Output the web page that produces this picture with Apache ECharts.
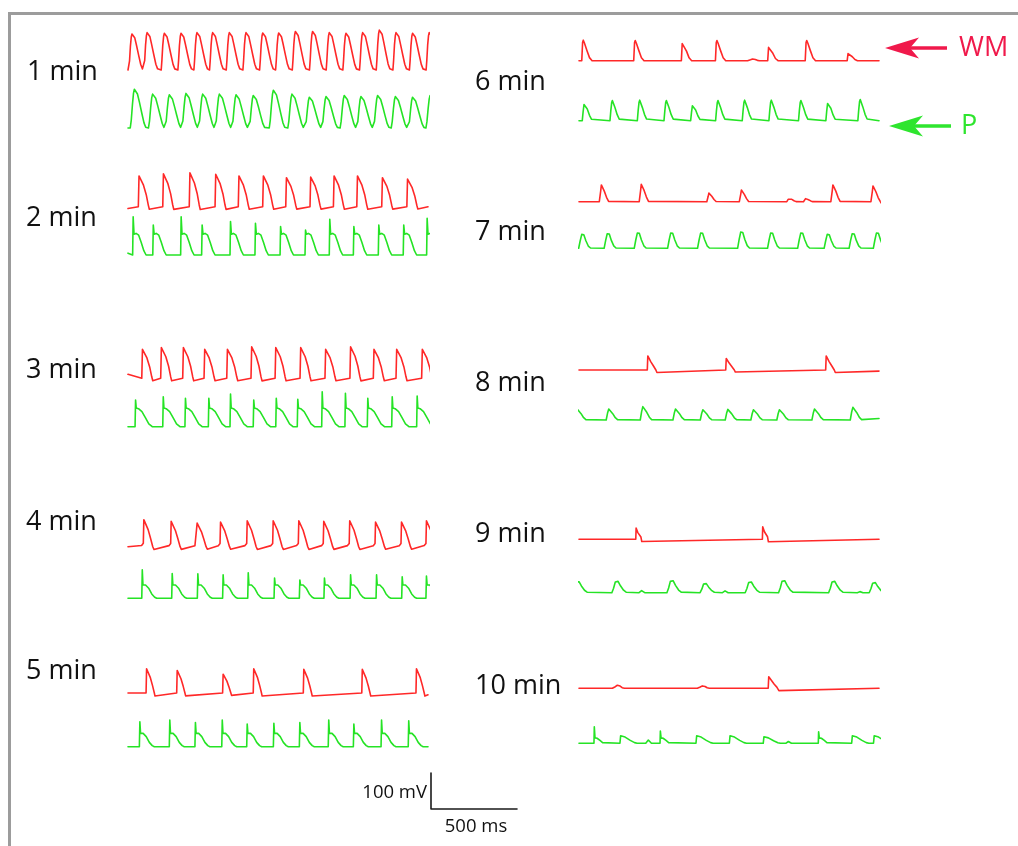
<!DOCTYPE html>
<html>
<head>
<meta charset="utf-8">
<script src="https://cdn.jsdelivr.net/npm/echarts@6/dist/echarts.min.js"></script>
<style>
  html, body { margin: 0; padding: 0; background: #ffffff; }
  #chart { width: 1018px; height: 846px; }
</style>
</head>
<body>
<div id="chart"></div>
<script>
// ---------- recording data (time in ms, voltage in mV above each trace's baseline) ----------
// Beat lists: [time ms, amplitude mV, optional shape name]

const minuteLabels = ['1 min', '2 min', '3 min', '4 min', '5 min', '6 min', '7 min', '8 min', '9 min', '10 min'];
const trackNames = ['WM', 'P'];
const scaleBar = { mV: 100, ms: 500 };

// working myocardium (red) and pacemaker (green) traces per minute
const wm1 = [[27,102],[115,106],[215,104],[312,104],[405,106],[496,106],[593,106],[690,106],[787,105],[880,105],[977,109],[1077,109],[1174,106],[1271,104],[1368,106],[1465,113],[1562,106],[1658,104],[1755,106]];
const p1  = [[41,110],[147,96],[244,94],[341,98],[438,96],[535,96],[632,94],[732,92],[849,107],[957,96],[1058,87],[1155,89],[1261,92],[1358,89],[1455,92],[1558,89],[1658,87],[1760,92]];

const wm2 = [[60,88],[202,94],[356,97],[506,93],[641,88],[783,88],[917,83],[1058,85],[1194,88],[1330,88],[1475,83],[1621,79]];
const p2  = [[27,106],[144,83],[306,106],[428,83],[593,93],[738,88],[884,79],[1029,69],[1170,99],[1310,79],[1455,83],[1600,83],[1736,102]];

const wm3 = [[80,83],[190,88],[318,88],[442,83],[574,83],[715,90],[855,88],[1000,88],[1145,83],[1290,90],[1426,83],[1558,83],[1707,83]];
const p3  = [[41,74],[202,83],[331,79],[467,79],[593,91],[728,74],[859,79],[984,76],[1126,97],[1261,93],[1391,79],[1533,83],[1678,85]];

const wm4 = [[89,79],[248,74],[399,69],[535,72],[690,76],[841,76],[990,76],[1135,74],[1286,76],[1436,72],[1587,72],[1732,76]];
const p4  = [[80,79],[254,69],[403,68],[550,65],[696,71],[849,56],[996,51],[1139,56],[1291,65],[1442,65],[1591,60],[1732,62]];

const wm5 = [[105,71],[283,66],[550,55],[728,71],[1019,69],[1359,69],[1674,71]];
const p5  = [[66,69],[240,74],[389,67],[545,74],[690,63],[845,65],[996,67],[1164,74],[1310,63],[1471,74],[1629,72]];

const wm6 = [[16,57],[318,56],[595,53],[793,56],[1015,5,'rbump'],[1097,41],[1315,56],[1559,22]];
const p6  = [[33,50],[194,56],[353,57],[508,56],[663,46],[808,56],[963,57],[1118,57],[1290,56],[1449,53],[1635,59]];

const wm7 = [[132,49],[364,51],[757,25],[946,34],[1222,11],[1319,9],[1478,49],[1711,46]];
const p7  = [[22,42],[170,44],[345,46],[539,46],[713,46],[946,49],[1120,46],[1295,46],[1449,42],[1594,44],[1735,46]];

const wm8 = [[397,39],[853,32],[1434,39]];
const p8  = [[-8,32],[176,32],[374,39],[564,32],[723,30],[868,31],[1017,30],[1168,30],[1372,32],[1595,37]];

const wm9 = [[330,31],[1066,35]];
const p9  = [[-8,34],[219,35],[364,6,'gbump'],[539,37],[732,28],[849,5,'gbump'],[994,33],[1188,37],[1479,35],[1633,3,'gbump'],[1715,31]];

const wm10 = [[229,9,'rbump'],[723,7,'rbump'],[1100,32]];
const p10  = [[87,46,'spike10'],[238,23],[403,9,'gbump'],[471,34,'spike10'],[680,23],[874,23],[1071,20],[1217,5,'gbump'],[1391,32,'spike10'],[1585,23],[1712,23]];

// ---------- beat waveforms: [dt ms, fraction of beat amplitude, fixed mV offset] ----------
const saw1    = [[-22,0],[-18,0.25],[-13,0.65],[-8,0.9],[-4,0.98],[0,1],[5,0.98],[12,0.88],[22,0.68],[35,0.4],[47,0.15],[57,0.03],[64,0]];
const round1  = [[-28,0],[-22,0.2],[-15,0.6],[-9,0.88],[-4,0.98],[0,1],[6,0.97],[14,0.86],[26,0.64],[40,0.36],[52,0.13],[62,0.02],[68,0]];
const apRed   = [[0,0],[4,0.97],[8,1],[14,0.92],[30,0.68],[46,0.38],[58,0.05],[64,-0.08]];
const apRed4  = [[-10,0.04],[0,0.12],[3,0.95],[7,1],[14,0.88],[28,0.6],[42,0.3],[55,0],[62,-0.1]];
const apRed5  = [[0,0],[3,0.95],[7,1],[13,0.88],[25,0.6],[38,0.28],[48,0],[52,-0.12]];
const apRed6  = [[0,0],[5,0.9],[9,1],[16,0.85],[30,0.5],[45,0.15],[60,0],[64,-0.03]];
const pk7     = [[-14,0],[-6,0.6],[-2,0.95],[0,1],[5,0.9],[15,0.6],[28,0.25],[40,0.02],[46,-0.08]];
const ap8     = [[0,0],[3,1],[8,0.9],[20,0.6],[35,0.3],[50,0],[56,-0.18]];
const ap9     = [[0,0],[2,1],[6,0.9],[12,0.6],[22,0.5],[30,0.2],[35,-0.2]];
const ap10    = [[0,0],[3,1],[8,0.92],[18,0.7],[35,0.35],[50,0.1],[62,-0.2]];
const rbump   = [[-35,0],[-18,0.5],[-6,0.95],[0,1],[10,0.7],[22,0.2],[35,0]];
const sd2     = [[0,0,0],[3,1,0],[8,0,58],[20,0,60],[35,0,55],[50,0,35],[65,0,12],[78,0,0]];
const sd3     = [[0,0,0],[3,1,0],[7,0,52],[20,0,50],[40,0,42],[60,0,25],[80,0,8],[100,0,0]];
const sd4     = [[0,0,0],[3,1,0],[7,0,37],[22,0,37],[40,0,28],[58,0,12],[75,0,3],[87,0,0]];
const round6  = [[-14,0],[-9,0.5],[-4,0.9],[0,1],[5,0.95],[15,0.65],[28,0.3],[40,0.08],[48,0]];
const round7  = [[-24,0],[-15,0.5],[-6,0.92],[0,1],[6,0.9],[18,0.5],[32,0.15],[45,0.02],[52,0]];
const round8  = [[-18,0],[-10,0.6],[-3,0.95],[0,1],[8,0.9],[20,0.55],[35,0.2],[48,0.03],[56,0]];
const round9  = [[-28,0],[-18,0.35],[-8,0.85],[0,1],[8,0.9],[22,0.55],[40,0.2],[55,0.04],[65,0]];
const gbump   = [[-15,0],[-7,0.6],[0,1],[8,0.5],[18,0]];
const spike10 = [[0,0,0],[2,1,0],[6,0,15],[18,0,14],[35,0,8],[50,0,2],[58,0,0]];
const dome10  = [[0,0],[4,0.9],[9,1],[30,0.75],[60,0.35],[85,0.08],[100,0]];

const shapes = { saw1, round1, apRed, apRed4, apRed5, apRed6, pk7, ap8, ap9, ap10, rbump,
                 sd2, sd3, sd4, round6, round7, round8, round9, gbump, spike10, dome10 };

// ---------- layout ----------
const SPAN_MS = 1744;          // time shown in every trace
const TRACE_W = 300;           // px for SPAN_MS
const PX_PER_MV = 0.36;
const MV_MIN = -30, MV_MAX = 130;
const RED = '#ff2828', GREEN = '#25e325';
const LEFT_X = 128, RIGHT_X = 579;

const traces = [
  { beats: wm1,  shape: 'saw1',   color: RED,   x: LEFT_X,  base: 70,    start: 0, end: 0 },
  { beats: p1,   shape: 'round1', color: GREEN, x: LEFT_X,  base: 128,   start: 0, end: 0 },
  { beats: wm2,  shape: 'apRed',  color: RED,   x: LEFT_X,  base: 206.7, start: -5, end: 0 },
  { beats: p2,   shape: 'sd2',    color: GREEN, x: LEFT_X,  base: 255,   start: 5, end: 0 },
  { beats: wm3,  shape: 'apRed',  color: RED,   x: LEFT_X,  base: 378.3, start: 11, end: 0 },
  { beats: p3,   shape: 'sd3',    color: GREEN, x: LEFT_X,  base: 426.7, start: 0, end: 0 },
  { beats: wm4,  shape: 'apRed4', color: RED,   x: LEFT_X,  base: 546.7, start: 0, end: 0 },
  { beats: p4,   shape: 'sd4',    color: GREEN, x: LEFT_X,  base: 598.3, start: 0, end: 0 },
  { beats: wm5,  shape: 'apRed5', color: RED,   x: LEFT_X,  base: 693,   start: 0, end: -5 },
  { beats: p5,   shape: 'sd4',    color: GREEN, x: LEFT_X,  base: 746.7, start: 0, end: 0 },
  { beats: wm6,  shape: 'apRed6', color: RED,   x: RIGHT_X, base: 60.7,  start: 0, end: 0 },
  { beats: p6,   shape: 'round6', color: GREEN, x: RIGHT_X, base: 120.7, start: 0, end: 0 },
  { beats: wm7,  shape: 'pk7',    color: RED,   x: RIGHT_X, base: 201.7, start: 0, end: 0 },
  { beats: p7,   shape: 'round7', color: GREEN, x: RIGHT_X, base: 248.3, start: 0, end: 0 },
  { beats: wm8,  shape: 'ap8',    color: RED,   x: RIGHT_X, base: 370,   start: 0, end: -3 },
  { beats: p8,   shape: 'round8', color: GREEN, x: RIGHT_X, base: 420,   start: 0, end: 4 },
  { beats: wm9,  shape: 'ap9',    color: RED,   x: RIGHT_X, base: 539.3, start: 0, end: 0 },
  { beats: p9,   shape: 'round9', color: GREEN, x: RIGHT_X, base: 592.7, start: 0, end: 0 },
  { beats: wm10, shape: 'ap10',   color: RED,   x: RIGHT_X, base: 688.3, start: 0, end: 0 },
  { beats: p10,  shape: 'dome10', color: GREEN, x: RIGHT_X, base: 743.3, start: 0, end: 0 }
];

const labelPos = [[27,72],[26,218],[26,370],[26,522],[26,671],[475,82],[475,232],[475,383],[475,534],[475,686]];

// expand a beat list into a polyline in (ms, mV)
function buildTrace(tr) {
  const pts = [];
  const b = tr.beats;
  for (let i = 0; i < b.length; i++) {
    const [t, amp, kind] = b[i];
    const shape = shapes[kind || tr.shape];
    let limit = Infinity;
    if (i + 1 < b.length) {
      const nb = b[i + 1];
      limit = nb[0] + shapes[nb[2] || tr.shape][0][0];
    }
    for (const p of shape) {
      const tt = t + p[0];
      if (tt < limit) pts.push([tt, p[1] * amp + (p[2] || 0)]);
    }
  }
  if (pts[0][0] > 0) pts.unshift([0, tr.start]);
  if (pts[pts.length - 1][0] < SPAN_MS) pts.push([SPAN_MS, tr.end]);
  return pts;
}

const grids = [], xAxes = [], yAxes = [], series = [];
function addPanel(left, baseY, data, color, width) {
  const idx = grids.length;
  grids.push({ left: left, top: baseY - MV_MAX * PX_PER_MV, width: TRACE_W,
               height: (MV_MAX - MV_MIN) * PX_PER_MV, containLabel: false });
  xAxes.push({ type: 'value', gridIndex: idx, min: 0, max: SPAN_MS, show: false });
  yAxes.push({ type: 'value', gridIndex: idx, min: MV_MIN, max: MV_MAX, show: false });
  series.push({ type: 'line', xAxisIndex: idx, yAxisIndex: idx, data: data,
                showSymbol: false, symbol: 'none', clip: true, smooth: false,
                lineStyle: { color: color, width: width, join: 'round', cap: 'round' }, silent: true });
}

traces.forEach(tr => addPanel(tr.x, tr.base, buildTrace(tr), tr.color, 1.6));

// calibration bar: 100 mV vertical, 500 ms horizontal
addPanel(431, 809, [[0, scaleBar.mV], [0, 0], [scaleBar.ms, 0]], '#1a1a1a', 1.6);

const FONT = '"Open Sans", "Noto Sans", sans-serif';
const graphic = [
  { type: 'polyline', shape: { points: [[9.5, 846], [9.5, 13.5], [1018, 13.5]] },
    style: { stroke: '#9c9c9c', lineWidth: 3, fill: null }, silent: true }
];
minuteLabels.forEach((txt, i) => {
  graphic.push({ type: 'text', x: labelPos[i][0], y: labelPos[i][1],
    style: { text: txt, font: '27px ' + FONT, fill: '#111', textAlign: 'left', textVerticalAlign: 'middle' } });
});
// arrows marking the two recording sites
function arrow(tipX, y, color) {
  graphic.push({ type: 'line', shape: { x1: tipX + 22, y1: y, x2: tipX + 62, y2: y },
                 style: { stroke: color, lineWidth: 3.5 } });
  graphic.push({ type: 'polygon',
    shape: { points: [[tipX, y], [tipX + 34, y - 10.5], [tipX + 25, y], [tipX + 34, y + 10.5]] },
    style: { fill: color } });
}
arrow(885, 48, '#f0194b');
arrow(889, 126, '#2ee52e');
graphic.push({ type: 'text', x: 959, y: 48,
  style: { text: trackNames[0], font: '27px ' + FONT, fill: '#f0194b', textVerticalAlign: 'middle' } });
graphic.push({ type: 'text', x: 961, y: 126,
  style: { text: trackNames[1], font: '27px ' + FONT, fill: '#2ee52e', textVerticalAlign: 'middle' } });
graphic.push({ type: 'text', x: 427, y: 793,
  style: { text: scaleBar.mV + ' mV', font: '18.5px ' + FONT, fill: '#111', textAlign: 'right', textVerticalAlign: 'middle' } });
graphic.push({ type: 'text', x: 476, y: 827,
  style: { text: scaleBar.ms + ' ms', font: '18.5px ' + FONT, fill: '#111', textAlign: 'center', textVerticalAlign: 'middle' } });

const chart = echarts.init(document.getElementById('chart'), null, { renderer: 'canvas' });
chart.setOption({
  animation: false,
  backgroundColor: '#ffffff',
  grid: grids, xAxis: xAxes, yAxis: yAxes, series: series,
  graphic: graphic
});
</script>
</body>
</html>
